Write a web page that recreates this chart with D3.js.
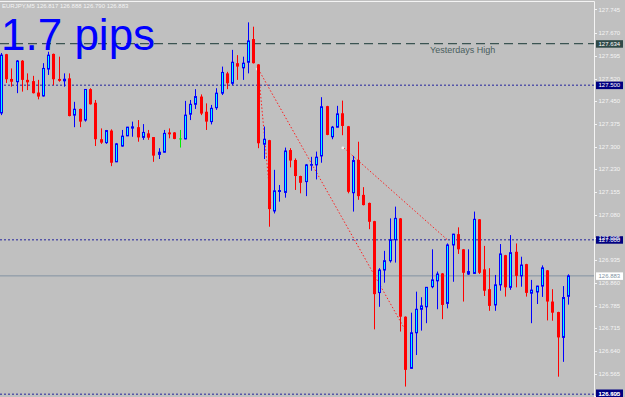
<!DOCTYPE html>
<html>
<head>
<meta charset="utf-8">
<script src="https://cdn.jsdelivr.net/npm/d3@7"></script>
<style>
	body { margin: 0; background: #c0c0c0; }
	svg { display: block; font-family: "Liberation Sans", Arial, sans-serif; }
</style>
</head>
<body>
<script>
// EURJPY M5 bars
var open = [127.410,127.600,127.520,127.511,127.579,127.517,127.513,127.476,127.465,127.552,
	127.601,127.520,127.514,127.522,127.403,127.423,127.387,127.487,127.443,127.325,
	127.314,127.353,127.252,127.303,127.336,127.361,127.364,127.331,127.344,127.332,
	127.276,127.283,127.347,127.347,127.326,127.326,127.406,127.438,127.463,127.414,
	127.382,127.427,127.474,127.538,127.506,127.571,127.556,127.574,127.649,127.567,
	127.309,127.322,127.093,127.156,127.153,127.290,127.258,127.206,127.188,127.241,
	127.242,127.271,127.432,127.333,127.364,127.409,127.367,127.152,127.258,127.145,
	127.119,127.060,126.829,126.902,126.932,127.000,127.069,126.751,126.584,126.699,
	126.775,126.783,126.848,126.867,126.891,126.794,126.983,127.018,126.969,126.889,
	126.891,127.066,126.904,126.840,126.789,126.854,126.950,126.846,126.961,126.883,
	126.921,126.827,126.831,126.850,126.901,126.800,126.766,126.684,126.817];

var high = [127.604,127.601,127.554,127.581,127.581,127.538,127.530,127.517,127.571,127.608,
	127.602,127.592,127.538,127.538,127.446,127.424,127.487,127.490,127.452,127.360,
	127.355,127.357,127.313,127.355,127.365,127.382,127.387,127.374,127.355,127.332,
	127.296,127.355,127.360,127.348,127.355,127.449,127.452,127.487,127.470,127.441,
	127.436,127.490,127.560,127.543,127.614,127.597,127.592,127.703,127.689,127.568,
	127.366,127.323,127.226,127.177,127.298,127.296,127.263,127.207,127.245,127.268,
	127.285,127.461,127.433,127.368,127.433,127.450,127.368,127.271,127.317,127.170,
	127.120,127.061,126.908,126.964,127.069,127.107,127.070,126.752,126.764,126.832,
	126.814,126.847,126.969,126.897,126.892,126.988,127.019,127.040,126.970,126.969,
	127.091,127.067,126.980,126.908,126.886,126.986,126.951,127.015,126.988,126.945,
	126.922,126.870,126.851,126.917,126.902,126.840,126.767,126.850,126.888];

var low = [127.403,127.507,127.495,127.474,127.479,127.484,127.473,127.454,127.463,127.533,
	127.500,127.511,127.495,127.399,127.364,127.364,127.382,127.437,127.303,127.310,
	127.310,127.238,127.251,127.301,127.335,127.333,127.317,127.323,127.323,127.252,
	127.261,127.282,127.328,127.325,127.298,127.325,127.387,127.423,127.403,127.355,
	127.373,127.420,127.468,127.487,127.500,127.517,127.517,127.538,127.570,127.296,
	127.261,127.042,127.085,127.123,127.136,127.234,127.161,127.150,127.141,127.223,
	127.195,127.249,127.338,127.325,127.363,127.338,127.150,127.091,127.129,127.111,
	127.034,126.710,126.783,126.861,126.926,126.926,126.703,126.525,126.583,126.627,
	126.706,126.730,126.843,126.775,126.743,126.778,126.864,126.954,126.800,126.886,
	126.890,126.889,126.818,126.770,126.770,126.835,126.816,126.838,126.846,126.848,
	126.816,126.730,126.792,126.815,126.739,126.738,126.557,126.605,126.790];

var close = [127.597,127.519,127.511,127.578,127.517,127.509,127.474,127.463,127.554,127.597,
	127.519,127.514,127.519,127.400,127.422,127.382,127.486,127.438,127.325,127.314,
	127.353,127.249,127.310,127.335,127.364,127.365,127.331,127.347,127.330,127.272,
	127.283,127.344,127.341,127.326,127.326,127.403,127.438,127.463,127.408,127.382,
	127.425,127.474,127.541,127.506,127.574,127.560,127.571,127.643,127.571,127.312,
	127.325,127.099,127.158,127.159,127.287,127.256,127.206,127.184,127.242,127.243,
	127.267,127.430,127.339,127.364,127.407,127.368,127.155,127.256,127.141,127.112,
	127.058,126.824,126.902,126.932,127.000,127.069,126.751,126.579,126.699,126.775,
	126.786,126.846,126.870,126.889,126.789,126.983,127.018,126.969,126.893,126.897,
	127.066,126.893,126.835,126.786,126.854,126.954,126.846,126.958,126.883,126.918,
	126.828,126.837,126.850,126.909,126.800,126.764,126.684,126.813,126.883];

var priceTicks = [127.745, 127.670, 127.595, 127.520, 127.450, 127.375, 127.300, 127.230, 127.155,
	127.080, 127.005, 126.935, 126.860, 126.785, 126.715, 126.640, 126.565, 126.495];

var symbol = "EURJPY,M5";
var yesterdaysHigh = 127.634;
var roundLevels = [127.500, 127.000, 126.500];
var bid = 126.883;
var pipsText = "1.7 pips";

// trend lines as [bar index, price] pairs
var trendLines = [
	[[49, 127.552], [77, 126.708]],
	[[49, 127.552], [51.4, 127.112]],
	[[65.3, 127.297], [85, 127.000]]
];

var width = 625;
var height = 397;
var axisX = 594.5;

var bars = open.map(function(o, i) {
	return { i: i, o: o, h: high[i], l: low[i], c: close[i] };
});

var x = d3.scaleLinear().domain([0, bars.length - 1]).range([1, 568]);
var y = d3.scaleLinear().domain([126.500, 127.634]).range([394.3, 43.7]);
var fmt = d3.format(".3f");

// label baseline, kept inside the window at the bottom
function labelY(p) {
	return Math.min(y(p) + 2.2, height - 1);
}

var svg = d3.select("body").append("svg")
	.attr("width", width)
	.attr("height", height);

svg.append("rect")
	.attr("width", width).attr("height", height)
	.attr("fill", "#c0c0c0");

/* level lines */
var levels = svg.append("g");

levels.append("line")
	.attr("x1", 0).attr("x2", axisX)
	.attr("y1", y(yesterdaysHigh)).attr("y2", y(yesterdaysHigh))
	.attr("stroke", "#3b5452")
	.attr("stroke-width", 1.2)
	.attr("stroke-dasharray", "9,5");

levels.selectAll("line.round")
	.data(roundLevels)
	.enter().append("line")
	.attr("class", "round")
	.attr("x1", 0).attr("x2", axisX)
	.attr("y1", function(d) { return y(d); })
	.attr("y2", function(d) { return y(d); })
	.attr("stroke", "#5656a8")
	.attr("stroke-width", 1.5)
	.attr("stroke-dasharray", "2,2");

levels.append("line")
	.attr("x1", 0).attr("x2", axisX)
	.attr("y1", y(bid)).attr("y2", y(bid))
	.attr("stroke", "#8393a3")
	.attr("stroke-width", 1);

levels.append("text")
	.attr("x", 430)
	.attr("y", y(yesterdaysHigh) + 9)
	.attr("font-size", 9)
	.attr("fill", "#4b5e5e")
	.text("Yesterdays High");

/* trend lines */
var trends = svg.append("g");

trends.selectAll("line")
	.data(trendLines)
	.enter().append("line")
	.attr("x1", function(d) { return x(d[0][0]); })
	.attr("y1", function(d) { return y(d[0][1]); })
	.attr("x2", function(d) { return x(d[1][0]); })
	.attr("y2", function(d) { return y(d[1][1]); })
	.attr("stroke", "#ff2020")
	.attr("stroke-width", 1)
	.attr("stroke-dasharray", "1.5,2");

trends.selectAll("circle")
	.data(trendLines)
	.enter().append("circle")
	.attr("cx", function(d) { return x(d[0][0]) - 1; })
	.attr("cy", function(d) { return y(d[0][1]); })
	.attr("r", 1.4)
	.attr("fill", "#f0f0f0");

/* candles */
var candle = svg.append("g")
	.selectAll("g")
	.data(bars)
	.enter().append("g")
	.attr("transform", function(d) { return "translate(" + Math.round(x(d.i)) + ",0)"; });

function barColor(d) {
	if (d.c > d.o) return "#0000ff";
	if (d.c < d.o) return "#ff0000";
	return "#00ee00";
}

candle.append("line")
	.attr("x1", 0.5).attr("x2", 0.5)
	.attr("y1", function(d) { return y(d.h); })
	.attr("y2", function(d) { return y(d.l); })
	.attr("stroke", barColor);

candle.filter(function(d) { return d.c < d.o; })
	.append("rect")
	.attr("x", -1)
	.attr("width", 3)
	.attr("y", function(d) { return y(d.o); })
	.attr("height", function(d) { return Math.max(1, y(d.c) - y(d.o)); })
	.attr("fill", "#ff0000");

candle.filter(function(d) { return d.c > d.o; })
	.append("rect")
	.attr("x", -0.5)
	.attr("width", 2)
	.attr("y", function(d) { return y(d.c); })
	.attr("height", function(d) { return Math.max(0.5, y(d.o) - y(d.c)); })
	.attr("fill", "#00ffff")
	.attr("stroke", "#0000ff")
	.attr("stroke-width", 1);

candle.filter(function(d) { return d.c == d.o; })
	.append("line")
	.attr("x1", -1).attr("x2", 2)
	.attr("y1", function(d) { return y(d.o); })
	.attr("y2", function(d) { return y(d.o); })
	.attr("stroke", "#00ee00");

/* frame and price axis */
svg.append("line")
	.attr("x1", 0).attr("x2", axisX)
	.attr("y1", 1.5).attr("y2", 1.5)
	.attr("stroke", "#f4f4f4");

svg.append("line")
	.attr("x1", axisX).attr("x2", axisX)
	.attr("y1", 1.5).attr("y2", height)
	.attr("stroke", "#f4f4f4");

var axis = svg.append("g").attr("font-size", 6);

axis.selectAll("line.tick")
	.data(priceTicks)
	.enter().append("line")
	.attr("class", "tick")
	.attr("x1", axisX).attr("x2", axisX + 2.5)
	.attr("y1", function(d) { return Math.round(y(d)) + 0.5; })
	.attr("y2", function(d) { return Math.round(y(d)) + 0.5; })
	.attr("stroke", "#f4f4f4");

axis.selectAll("text.tick")
	.data(priceTicks)
	.enter().append("text")
	.attr("class", "tick")
	.attr("x", 598.5)
	.attr("y", labelY)
	.attr("fill", "#f4f4f4")
	.text(fmt);

var tags = [{ p: yesterdaysHigh, bg: "#2f4a48", fg: "#ffffff" }]
	.concat(roundLevels.map(function(p) { return { p: p, bg: "#000080", fg: "#ffffff" }; }))
	.concat([{ p: bid, bg: "#ffffff", fg: "#8393a3" }]);

axis.selectAll("rect.tag")
	.data(tags)
	.enter().append("rect")
	.attr("class", "tag")
	.attr("x", axisX + 1.5)
	.attr("y", function(d) { return Math.min(y(d.p) - 3.5, height - 7.5); })
	.attr("width", 27)
	.attr("height", 7.5)
	.attr("fill", function(d) { return d.bg; });

// tick labels hidden by a tag are drawn again on top, as the terminal does
axis.selectAll("text.under")
	.data([127.005, 126.495])
	.enter().append("text")
	.attr("x", 598.5)
	.attr("y", labelY)
	.attr("fill", "#ffffff")
	.text(fmt);

axis.selectAll("text.tag")
	.data(tags)
	.enter().append("text")
	.attr("class", "tag")
	.attr("x", 598.5)
	.attr("y", function(d) { return labelY(d.p); })
	.attr("fill", function(d) { return d.fg; })
	.text(function(d) { return fmt(d.p); });

/* header and big label */
var last = bars[bars.length - 1];
svg.append("text")
	.attr("x", 2)
	.attr("y", 8.3)
	.attr("font-size", 6)
	.attr("fill", "#f4f4f4")
	.text(symbol + "  " + [last.o, last.h, last.l, last.c].map(fmt).join(" "));

svg.append("text")
	.attr("x", 1)
	.attr("y", 49.5)
	.attr("font-size", 44)
	.attr("fill", "#0000ff")
	.text(pipsText);
</script>
</body>
</html>
